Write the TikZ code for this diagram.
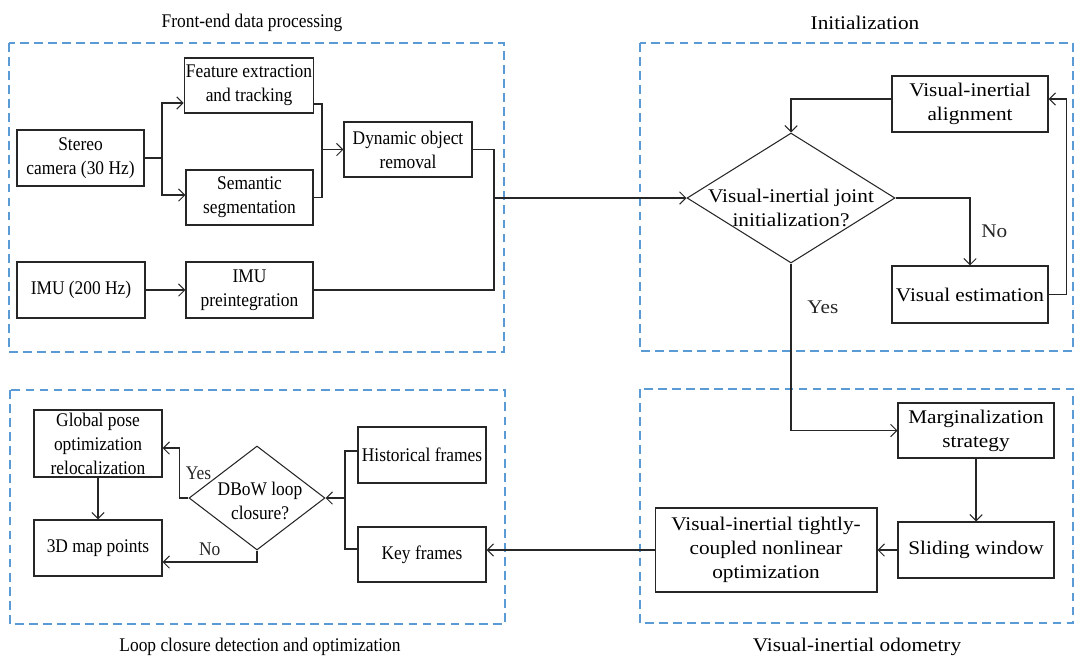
\documentclass[tikz,border=0pt]{standalone}
\usepackage{fontspec}
\setmainfont{Liberation Serif}[FakeStretch=0.9]
\newfontfamily\widefont{Liberation Serif}[FakeStretch=1.1]
\usepackage{xcolor}
\usetikzlibrary{arrows.meta,calc,positioning,shapes.geometric}
\definecolor{frameblue}{RGB}{91,155,213}
\tikzset{%
	block/.style    = {draw=black!85, rectangle, line width=0.6pt, align=center, inner sep=1pt}, % Box
	decision/.style = {draw=black!85, diamond, line width=0.6pt, inner sep=0pt}, % Diamond
	dtext/.style    = {align=center, inner sep=0pt}, % Text in diamond
	wide/.style     = {font=\widefont\fontsize{11}{13.6}\selectfont}, % Right-hand groups
	frame/.style    = {draw=frameblue, line width=0.7pt, dash pattern=on 5pt off 3pt}, % Group
	title/.style    = {inner sep=0pt}, % Group title
	waypoint/.style = {coordinate},
	arrow/.style    = {-{Straight Barb[length=3.5pt,width=7pt]}, line width=0.6pt, black!85},
	line/.style     = {line width=0.6pt, black!85},
}

\begin{document}
\begin{tikzpicture}[x=0.02cm, y=-0.02cm, every node/.style={font=\fontsize{11}{13.6}\selectfont}]
	\useasboundingbox (0,0) rectangle (1075,660);
	% groups
	\draw[frame] (9,43) rectangle (504,352);
	\draw[frame] (640,43) rectangle (1073,351);
	\draw[frame] (10,390) rectangle (505,624);
	\draw[frame] (640,389) rectangle (1073,623);
	\node[title] (t1) at (252,23) {Front-end data processing};
	\node[title, wide] (t2) at (865,23) {Initialization};
	\node[title] (t3) at (260,647) {Loop closure detection and optimization};
	\node[title, wide] (t4) at (857,647) {Visual-inertial odometry};
	% front-end
	\node[block, minimum width=2.54cm, minimum height=1.12cm] (cam) at (80.5,158) {Stereo\\camera (30 Hz)};
	\node[block, minimum width=2.56cm, minimum height=1.1cm] (feat) at (249,85.5) {Feature extraction\\and tracking};
	\node[block, minimum width=2.54cm, minimum height=1.1cm] (sem) at (249.5,197.5) {Semantic\\segmentation};
	\node[block, minimum width=2.56cm, minimum height=1.1cm] (dyn) at (408,149.5) {Dynamic object\\removal};
	\node[block, minimum width=2.56cm, minimum height=1.12cm] (imu) at (81,290) {IMU (200 Hz)};
	\node[block, minimum width=2.54cm, minimum height=1.12cm] (pre) at (249.5,290) {IMU\\preintegration};
	% initialization
	\node[decision, minimum width=4.16cm, minimum height=2.6cm] (init) at (791,198) {};
	\node[dtext, wide] (initTxt) at (791,208) {Visual-inertial joint\\initialization?};
	\node[block, wide, minimum width=3.12cm, minimum height=1.12cm] (align) at (970,104) {Visual-inertial\\alignment};
	\node[block, wide, minimum width=3.12cm, minimum height=1.14cm] (vest) at (970,294.5) {Visual estimation};
	% odometry
	\node[block, wide, minimum width=3.12cm, minimum height=1.1cm] (marg) at (976,430.5) {Marginalization\\strategy};
	\node[block, wide, minimum width=3.12cm, minimum height=1.12cm] (slide) at (976,550) {Sliding window};
	\node[block, wide, minimum width=4.44cm, minimum height=1.68cm] (opt) at (766,550) {Visual-inertial tightly-\\coupled nonlinear\\optimization};
	% loop closure
	\node[block, minimum width=2.56cm, minimum height=1.34cm] (glob) at (98,443.5) {Global pose\\optimization\\relocalization};
	\node[block, minimum width=2.56cm, minimum height=1.12cm] (map) at (98,548) {3D map points};
	\node[block, minimum width=2.56cm, minimum height=1.12cm] (hist) at (422,455) {Historical frames};
	\node[block, minimum width=2.56cm, minimum height=1.1cm] (key) at (422,554.5) {Key frames};
	\node[decision, minimum width=2.72cm, minimum height=2.08cm] (dbow) at (257,498) {};
	\node[dtext] (dbowTxt) at (260,501) {DBoW loop\\closure?};
	% waypoints
	\node[waypoint] (s1) at (162,158) {};
	\node[waypoint] (m1) at (322,149.5) {};
	\node[waypoint] (m2) at (494,198) {};
	\node[waypoint] (m3) at (345,498) {};
	% connectors
	\draw[line] (cam.east) -- (s1);
	\draw[arrow] (s1) |- ([yshift=-0.35cm]feat.west);
	\draw[arrow] (s1) |- ([yshift=0.05cm]sem.west);
	\draw[line] ([yshift=-0.37cm]feat.east) -| (m1) |- (sem.east);
	\draw[arrow] (m1) -- (dyn.west);
	\draw[arrow] (imu.east) -- (pre.west);
	\draw[line] (dyn.east) -| (m2) |- (pre.east);
	\draw[arrow] (m2) -- (init.west);
	\draw[arrow] ([yshift=0.1cm]align.west) -| (init.north);
	\draw[arrow] (init.east) -| node[pos=0.75, right=0.1cm, wide] {No} (vest.north);
	\draw[arrow] (vest.east) -- ++(18,0) |- ([yshift=0.1cm]align.east);
	\draw[arrow] (init.south) |- node[pos=0.13, right=0.2cm, wide] {Yes} (marg.west);
	\draw[arrow] (marg.south) -- (slide.north);
	\draw[arrow] (slide.west) -- (opt.east);
	\draw[arrow] (opt.west) -- (opt.west -| key.east);
	\draw[line] ([yshift=0.08cm]hist.west) -| (m3) |- ([yshift=0.11cm]key.west);
	\draw[arrow] (m3) -- (dbow.east);
	\draw[arrow] (dbow.west) -- ++(-9,0) |- node[pos=0.25, right] {Yes} ([yshift=-0.09cm]glob.east);
	\draw[arrow] (dbow.south) |- node[pos=0.75, above] {No} ([yshift=-0.28cm]map.east);
	\draw[arrow] (glob.south) -- (map.north);
\end{tikzpicture}
\end{document}
